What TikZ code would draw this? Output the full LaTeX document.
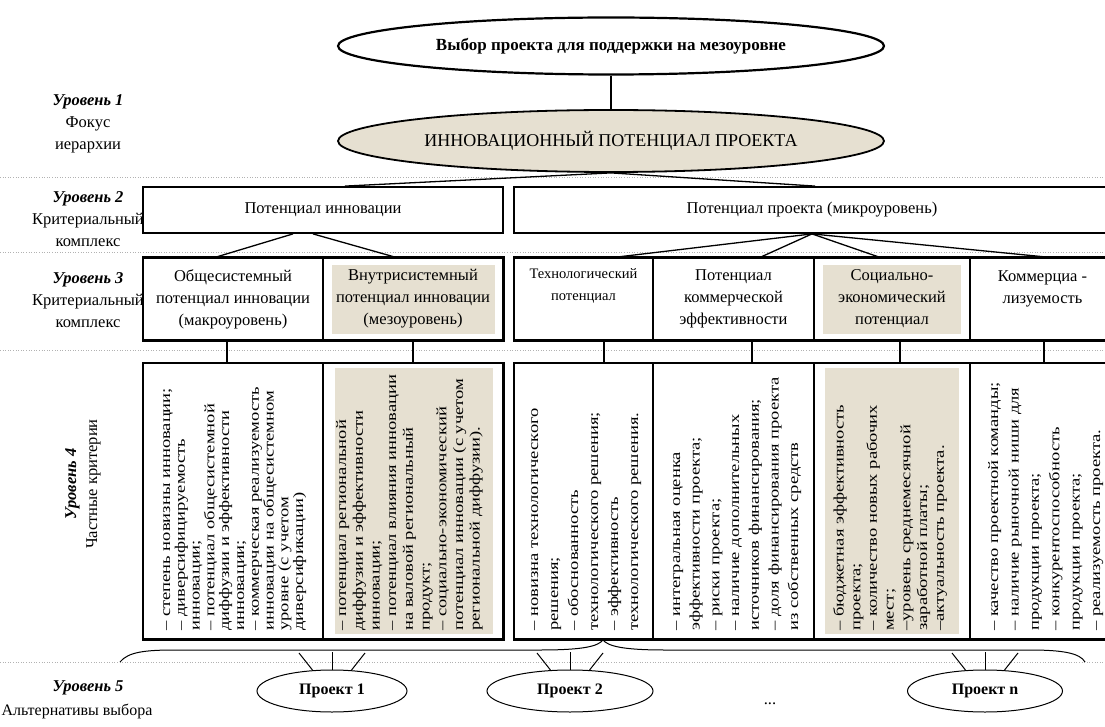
\documentclass[tikz,border=0pt]{standalone}
\usepackage{fontspec}
\setmainfont{Liberation Serif}
\usetikzlibrary{shapes.geometric}

\definecolor{beige}{RGB}{230,224,209}

\begin{document}
\begin{tikzpicture}[x=1pt, y=-1pt,
        every node/.style={inner sep=0pt, align=center, font=\fontsize{16.5}{22}\selectfont},
        oval/.style={draw, ellipse, line width=1.8pt},
        cell/.style={draw, line width=1.2pt, minimum height=82pt},
        frame/.style={draw, line width=1.8pt},
        crit/.style={rotate=90, xscale=1.28, anchor=north west, align=left},
        link/.style={line width=1.3pt},
        sep/.style={gray!60, dotted, line width=0.6pt},
        lvlname/.style={font=\bfseries\itshape\fontsize{16.5}{22}\selectfont}
    ]
    \useasboundingbox (0,0) rectangle (1105,727);

    % dotted separators between levels
    \foreach \y in {177,252,350,662}
        \draw[sep] (0,\y) -- (1105,\y);

    % level captions
    \node (lvl1) at (88,124) {\textbf{\textit{Уровень 1}}\\Фокус\\иерархии};
    \node (lvl2) at (88,219) {\textbf{\textit{Уровень 2}}\\Критериальный\\комплекс};
    \node (lvl3) at (88,300) {\textbf{\textit{Уровень 3}}\\Критериальный\\комплекс};
    \node[rotate=90, font=\fontsize{16.5}{21}\selectfont] (lvl4) at (83,484) {\textbf{\textit{Уровень 4}}\\Частные критерии};
    \node[lvlname] (lvl5) at (88,688) {Уровень 5};
    \node[font=\fontsize{16}{20}\selectfont] (lvl5t) at (77,711) {Альтернативы выбора};

    % level 1
    \node[oval, line width=2.2pt, minimum width=546pt, minimum height=57pt, font=\bfseries\fontsize{17}{20}\selectfont] (goal) at (611,46) {Выбор проекта для поддержки на мезоуровне};
    \node[oval, fill=beige, minimum width=546pt, minimum height=62pt, font=\fontsize{18}{20}\selectfont] (focus) at (611,141) {ИННОВАЦИОННЫЙ ПОТЕНЦИАЛ ПРОЕКТА};
    \draw[link] (goal) -- (focus);

    % level 2
    \node[cell, line width=1.8pt, minimum width=360pt, minimum height=46pt] (pinn) at (323,210) {Потенциал инновации};
    \node[cell, line width=1.8pt, minimum width=596pt, minimum height=46pt] (pprj) at (812,210) {Потенциал проекта (микроуровень)};
    \draw[link] (focus.south) -- ([xshift=22pt]pinn.north);
    \draw[link] (focus.south) -- ([xshift=3pt]pprj.north);

    % level 3
    \fill[beige] (332,265) rectangle (495,334);
    \fill[beige] (823,265) rectangle (961,334);
    \node[cell, minimum width=180pt] (c31) at (233,299) {Общесистемный\\потенциал инновации\\(макроуровень)};
    \node[cell, minimum width=180pt] (c32) at (413,299) {Внутрисистемный\\потенциал инновации\\(мезоуровень)};
    \node[cell, minimum width=139pt] (c33) at (583.5,299) {};
    \node[font=\fontsize{14.5}{22}\selectfont] (c33t) at ([yshift=13pt]c33.center) {Технологический\\потенциал};
    \node[cell, minimum width=161pt] (c34) at (733.5,299) {Потенциал\\коммерческой\\эффективности};
    \node[cell, minimum width=156pt] (c35) at (892,299) {Социально-\\экономический\\потенциал};
    \node[cell, minimum width=145pt] (c36) at (1042.5,299) {};
    \node (c36t) at ([yshift=10.5pt]c36.center) {Коммерциа -\\лизуемость};
    \draw[frame] (c31.north west) rectangle (c32.south east);
    \draw[frame] (c33.north west) rectangle (c36.south east);

    \draw[link] ([xshift=-30pt]pinn.south) -- ([xshift=-18pt]c31.north);
    \draw[link] ([xshift=-10pt]pinn.south) -- ([xshift=-17pt]c32.north);
    \draw[link] (pprj.south) -- ([xshift=30.5pt]c33.north);
    \draw[link] (pprj.south) -- ([xshift=26.5pt]c34.north);
    \draw[link] (pprj.south) -- ([xshift=-12pt]c35.north);
    \draw[link] (pprj.south) -- ([xshift=7.5pt]c36.north);

    % level 4
    \fill[beige] (335,368) rectangle (493,634);
    \fill[beige] (825,368) rectangle (959,634);
    \node[cell, minimum width=180pt, minimum height=276pt] (c41) at (233,501) {};
    \node[cell, minimum width=180pt, minimum height=276pt] (c42) at (413,501) {};
    \node[cell, minimum width=139pt, minimum height=276pt] (c43) at (583.5,501) {};
    \node[cell, minimum width=161pt, minimum height=276pt] (c44) at (733.5,501) {};
    \node[cell, minimum width=156pt, minimum height=276pt] (c45) at (892,501) {};
    \node[cell, minimum width=145pt, minimum height=276pt] (c46) at (1042.5,501) {};
    \draw[frame] (c41.north west) rectangle (c42.south east);
    \draw[frame] (c43.north west) rectangle (c46.south east);

    \draw[link] ([xshift=-6pt]c31.south) -- ([xshift=-6pt]c41.north);
    \draw[link] (c32.south) -- (c42.north);
    \draw[link] ([xshift=20.5pt]c33.south) -- ([xshift=20.5pt]c43.north);
    \draw[link] ([xshift=18.5pt]c34.south) -- ([xshift=18.5pt]c44.north);
    \draw[link] ([xshift=8pt]c35.south) -- ([xshift=8pt]c45.north);
    \draw[link] ([xshift=1.5pt]c36.south) -- ([xshift=1.5pt]c46.north);

    \node[crit, font=\fontsize{14.5}{14.8}\selectfont] (k41) at (163,631) {– степень новизны инновации;\\– диверсифицируемость\\инновации;\\– потенциал общесистемной\\диффузии и эффективности\\инновации;\\– коммерческая реализуемость\\инновации на общесистемном\\уровне (с учетом\\диверсификации)};
    \node[crit, font=\fontsize{14.5}{16.7}\selectfont] (k42) at (336,631) {– потенциал региональной\\диффузии и эффективности\\инновации;\\– потенциал влияния инновации\\на валовой региональный\\продукт;\\– социально-экономический\\потенциал инновации (с учетом\\региональной диффузии).};
    \node[crit, font=\fontsize{14.5}{20}\selectfont] (k43) at (531,631) {– новизна технологического\\решения;\\– обоснованность\\технологического решения;\\– эффективность\\технологического решения.};
    \node[crit, font=\fontsize{14.5}{19.7}\selectfont] (k44) at (673,631) {– интегральная оценка\\эффективности проекта;\\– риски проекта;\\– наличие дополнительных\\источников финансирования;\\– доля финансирования проекта\\из собственных средств};
    \node[crit, font=\fontsize{14.5}{16.7}\selectfont] (k45) at (833,631) {– бюджетная эффективность\\проекта;\\– количество новых рабочих\\мест;\\–уровень среднемесячной\\заработной платы;\\–актуальность проекта.};
    \node[crit, font=\fontsize{14.5}{20.4}\selectfont] (k46) at (988,631) {– качество проектной команды;\\\hbox to 190pt{– наличие рыночной ниши\hfill для}\\продукции проекта;\\– конкурентоспособность\\продукции проекта;\\– реализуемость проекта.};

    % level 5
    \draw[line width=1pt] (120,662) .. controls (128,652) and (145,650) .. (175,650) -- (540,650)
        .. controls (585,650) and (598,646) .. (603,640)
        .. controls (608,646) and (622,650) .. (665,650) -- (1030,650)
        .. controls (1062,650) and (1080,653) .. (1085,662);

    \node[draw, ellipse, line width=1pt, minimum width=150pt, minimum height=42pt, font=\bfseries\fontsize{16}{20}\selectfont] (p1) at (332,691) {Проект 1};
    \node[draw, ellipse, line width=1pt, minimum width=166pt, minimum height=42pt, font=\bfseries\fontsize{16}{20}\selectfont] (p2) at (570,691) {Проект 2};
    \node[draw, ellipse, line width=1pt, minimum width=155pt, minimum height=42pt, font=\bfseries\fontsize{16}{20}\selectfont] (pn) at (985,691) {Проект n};
    \node (dots) at (770,704) {...};

    \foreach \p/\x in {p1/332, p2/570, pn/985} {
        \draw[line width=1pt] ({\x-33},653) -- (\p.133);
        \draw[line width=1pt] (\x,652) -- (\p.north);
        \draw[line width=1pt] ({\x+33},653) -- (\p.47);
    }
\end{tikzpicture}
\end{document}
